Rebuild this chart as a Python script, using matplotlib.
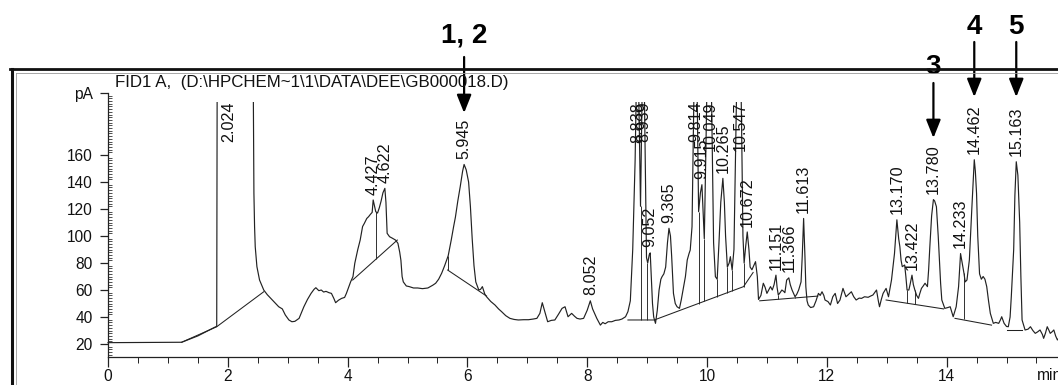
import numpy as np
import matplotlib
matplotlib.use("Agg")
import matplotlib.pyplot as plt
from matplotlib.lines import Line2D
from matplotlib.patches import Rectangle
from matplotlib.ticker import MultipleLocator

plt.rcParams['font.family'] = ['Liberation Sans', 'DejaVu Sans']

# ---------------- data ----------------
time_min = [
    0.00, 1.23, 1.50, 1.79, 1.815, 1.83, 2.40, 2.436, 2.447, 2.458, 2.486, 2.53, 2.60, 2.66, 2.77, 2.85, 2.91, 2.96, 3.02, 3.07,
    3.12, 3.19, 3.27, 3.33, 3.39, 3.44, 3.47, 3.52, 3.56, 3.60, 3.64, 3.69, 3.73, 3.77, 3.80, 3.85, 3.90, 3.95, 3.98, 4.05,
    4.09, 4.12, 4.17, 4.21, 4.25, 4.28, 4.32, 4.35, 4.38, 4.41, 4.427, 4.45, 4.47, 4.50, 4.53, 4.56, 4.59, 4.622, 4.64, 4.66,
    4.70, 4.75, 4.80, 4.84, 4.87, 4.89, 4.91, 4.93, 4.98, 5.03, 5.10, 5.17, 5.25, 5.34, 5.42, 5.47, 5.52, 5.57, 5.62, 5.68,
    5.73, 5.77, 5.80, 5.84, 5.88, 5.92, 5.945, 5.98, 6.02, 6.05, 6.08, 6.11, 6.14, 6.19, 6.22, 6.25, 6.29, 6.32, 6.39, 6.46,
    6.52, 6.57, 6.64, 6.71, 6.78, 6.85, 6.94, 7.02, 7.10, 7.16, 7.21, 7.25, 7.30, 7.34, 7.40, 7.46, 7.52, 7.58, 7.63, 7.68,
    7.74, 7.79, 7.83, 7.88, 7.94, 8.00, 8.052, 8.09, 8.11, 8.16, 8.22, 8.26, 8.30, 8.35, 8.41, 8.47, 8.53, 8.58, 8.64, 8.68,
    8.72, 8.76, 8.80, 8.838, 8.87, 8.89, 8.915, 8.939, 8.965, 8.99, 9.01, 9.035, 9.052, 9.07, 9.09, 9.11, 9.14, 9.17, 9.20, 9.23,
    9.25, 9.28, 9.31, 9.34, 9.365, 9.39, 9.41, 9.44, 9.47, 9.50, 9.54, 9.57, 9.61, 9.64, 9.67, 9.70, 9.72, 9.75, 9.78, 9.814,
    9.84, 9.86, 9.89, 9.915, 9.935, 9.955, 9.98, 10.01, 10.049, 10.08, 10.11, 10.14, 10.17, 10.20, 10.23, 10.265, 10.29, 10.31, 10.34, 10.37,
    10.39, 10.42, 10.45, 10.48, 10.51, 10.547, 10.575, 10.60, 10.62, 10.645, 10.672, 10.70, 10.72, 10.75, 10.78, 10.81, 10.84, 10.86, 10.90, 10.94,
    10.97, 11.00, 11.03, 11.06, 11.09, 11.12, 11.151, 11.17, 11.19, 11.22, 11.25, 11.28, 11.30, 11.33, 11.366, 11.39, 11.42, 11.45, 11.47, 11.50,
    11.53, 11.57, 11.59, 11.613, 11.635, 11.65, 11.67, 11.69, 11.73, 11.78, 11.82, 11.86, 11.89, 11.92, 11.95, 11.97, 12.02, 12.06, 12.10, 12.14,
    12.18, 12.22, 12.27, 12.32, 12.37, 12.41, 12.45, 12.49, 12.54, 12.58, 12.63, 12.69, 12.73, 12.77, 12.83, 12.86, 12.88, 12.91, 12.94, 12.99,
    13.03, 13.08, 13.13, 13.17, 13.20, 13.22, 13.24, 13.26, 13.30, 13.32, 13.34, 13.37, 13.39, 13.422, 13.445, 13.47, 13.50, 13.53, 13.55, 13.58,
    13.61, 13.64, 13.68, 13.70, 13.72, 13.75, 13.78, 13.80, 13.83, 13.86, 13.88, 13.90, 13.92, 13.97, 14.02, 14.06, 14.11, 14.16, 14.20, 14.233,
    14.26, 14.29, 14.31, 14.34, 14.38, 14.42, 14.462, 14.48, 14.50, 14.52, 14.55, 14.58, 14.61, 14.64, 14.67, 14.70, 14.73, 14.78, 14.82, 14.87,
    14.90, 14.92, 14.96, 15.00, 15.03, 15.06, 15.08, 15.12, 15.14, 15.163, 15.19, 15.22, 15.24, 15.26, 15.31, 15.36, 15.40, 15.44, 15.48, 15.52,
    15.56, 15.60, 15.62, 15.65, 15.68, 15.71, 15.73, 15.76, 15.79, 15.82, 15.85, 15.90,
]
signal_pA = [
    21.0, 21.3, 26.0, 32.6, 33.0, 400, 400, 131.6, 106.9, 92.0, 77.3, 67.4, 60.0, 56.5, 51.4, 47.6, 46.0, 41.5, 37.8, 36.5,
    36.8, 39.0, 47.6, 53.0, 57.5, 60.5, 61.7, 59.5, 60.0, 58.5, 59.0, 58.0, 57.5, 53.8, 50.6, 52.5, 53.8, 54.5, 57.5, 66.0,
    70.0, 79.8, 90.0, 97.0, 107.0, 109.4, 113.0, 114.3, 116.0, 117.5, 126.7, 122.0, 118.0, 117.0, 121.0, 126.0, 132.0, 135.3, 125.0, 102.0,
    99.5, 98.3, 97.0, 94.6, 88.0, 82.0, 70.0, 66.0, 63.0, 62.5, 61.5, 61.5, 61.0, 61.5, 63.5, 65.0, 68.0, 72.4, 78.0, 85.5,
    97.0, 107.0, 114.0, 126.0, 136.5, 148.0, 153.0, 149.0, 140.0, 122.0, 98.0, 78.0, 66.0, 60.0, 60.5, 62.5, 57.0, 55.0, 51.5, 48.9,
    46.0, 44.0, 41.0, 39.0, 38.2, 37.8, 38.0, 38.0, 38.5, 39.0, 42.7, 50.6, 42.7, 36.5, 37.5, 37.8, 42.0, 46.4, 47.6, 40.2,
    42.7, 40.5, 39.0, 38.5, 39.0, 45.0, 52.0, 46.0, 44.0, 39.0, 34.0, 36.0, 35.0, 36.5, 36.5, 37.5, 37.8, 38.5, 40.2, 44.0,
    52.0, 90.0, 156.0, 260.0, 180.0, 122.0, 200.0, 260.0, 170.0, 84.0, 80.0, 86.0, 87.5, 70.0, 50.0, 40.0, 35.3, 45.0, 60.0, 68.0,
    69.9, 72.0, 77.0, 95.0, 105.7, 100.0, 85.0, 57.5, 50.0, 47.6, 46.4, 52.6, 62.5, 70.0, 82.2, 87.0, 89.6, 106.9, 200.0, 270.0,
    190.0, 118.0, 132.0, 138.0, 118.0, 98.0, 160.0, 240.0, 270.0, 190.0, 95.0, 69.9, 68.0, 95.0, 125.0, 142.7, 125.0, 100.0, 77.0, 80.0,
    84.7, 74.8, 90.0, 170.0, 250.0, 270.0, 190.0, 100.0, 80.0, 92.0, 103.0, 90.0, 77.0, 75.0, 78.0, 81.0, 70.0, 53.0, 56.0, 65.0,
    62.0, 57.5, 60.0, 62.5, 60.0, 64.0, 71.0, 62.0, 56.3, 58.0, 60.0, 59.0, 58.0, 67.4, 69.0, 64.0, 60.0, 57.0, 55.0, 57.0,
    60.0, 66.0, 85.0, 113.0, 85.0, 62.5, 52.0, 48.9, 47.0, 47.6, 52.0, 57.5, 56.0, 58.7, 56.0, 52.6, 51.4, 48.9, 55.0, 57.5,
    50.0, 52.6, 61.2, 55.0, 57.0, 58.7, 55.0, 52.6, 54.0, 53.8, 55.0, 54.6, 55.5, 56.3, 60.0, 52.0, 47.6, 53.0, 57.5, 61.2,
    55.0, 67.4, 87.0, 112.0, 98.0, 92.0, 82.0, 77.3, 78.5, 70.0, 60.0, 60.0, 64.0, 71.0, 64.0, 60.0, 56.0, 53.8, 57.0, 61.2,
    63.0, 65.0, 62.5, 75.0, 92.0, 115.0, 127.0, 126.0, 121.7, 100.0, 82.2, 65.0, 52.6, 46.4, 47.0, 47.6, 40.2, 47.6, 62.5, 87.0,
    80.0, 72.4, 66.0, 67.4, 82.2, 119.3, 156.5, 148.0, 131.6, 100.0, 72.0, 68.0, 70.0, 68.0, 62.5, 52.0, 42.7, 35.3, 36.0, 35.3,
    38.0, 40.2, 35.3, 33.0, 32.8, 40.0, 55.0, 90.0, 130.0, 155.0, 145.0, 110.0, 70.0, 37.8, 30.4, 31.0, 32.8, 30.0, 27.9, 29.0,
    30.4, 27.0, 24.2, 28.0, 32.8, 30.0, 27.9, 29.0, 30.4, 26.0, 23.0, 26.0,
]

# integration baselines (polylines)
baseline_t = [[1.23, 1.815, 2.60], [4.085, 4.83], [5.67, 6.32], [8.68, 9.12, 10.61, 10.77],
              [10.88, 11.85], [12.99, 13.95], [14.14, 14.75], [15.00, 15.26]]
baseline_v = [[21.3, 32.8, 58.7], [67.4, 97.0], [74.8, 55.5], [37.8, 37.8, 62.5, 73.0],
              [52.0, 55.5], [52.6, 46.0], [39.0, 34.0], [30.4, 30.4]]

# peak separation (drop) lines
drop_t = [4.47, 5.68, 8.89, 9.005, 9.86, 9.955, 10.17, 10.34, 10.42, 10.61, 11.19, 11.47, 13.34, 13.47, 14.29]
drop_top = [118.0, 85.5, 122.0, 80.0, 118.0, 98.0, 68.0, 77.0, 74.8, 80.0, 56.3, 55.0, 60.0, 60.0, 72.4]
drop_bottom = [83.3, 74.6, 37.8, 37.8, 49.9, 51.5, 55.0, 57.9, 59.3, 62.5, 53.1, 54.2, 50.4, 49.6, 38.2]

# retention-time labels (None = peak off scale)
peak_labels = ["2.024", "4.427", "4.622", "5.945", "8.052", "8.838", "8.939", "9.052", "9.365",
               "9.814", "9.915", "10.049", "10.265", "10.547", "10.672", "11.151", "11.366",
               "11.613", "13.170", "13.422", "13.780", "14.233", "14.462", "15.163"]
peak_times = [2.024, 4.427, 4.622, 5.945, 8.052, 8.838, 8.939, 9.052, 9.365,
              9.814, 9.915, 10.049, 10.265, 10.547, 10.672, 11.151, 11.366,
              11.613, 13.170, 13.422, 13.780, 14.233, 14.462, 15.163]
peak_apex = [None, 126.7, 135.3, 153.0, 52.0, None, None, 87.5, 105.7,
             None, 138.0, None, 142.7, None, 103.0, 71.0, 69.0,
             113.0, 112.0, 71.0, 127.0, 87.0, 156.5, 155.0]

# identified compounds marked with arrows
marker_labels = ["1, 2", "3", "4", "5"]
marker_times = [5.945, 13.780, 14.462, 15.163]

x_ticks = [0, 2, 4, 6, 8, 10, 12, 14]
y_ticks = [20, 40, 60, 80, 100, 120, 140, 160]

# ---------------- figure ----------------
W, H = 1058, 385
fig = plt.figure(figsize=(W / 100, H / 100), dpi=100)
fig.patch.set_facecolor('white')

Y_TOP = 206.0
Y_BOT = 10.6
CLIP_TOP = 199.5
x_left_px, x_per_min = 108.0, 59.9
ax_bottom_px, ax_top_px = 356.7, 92.9
ax = fig.add_axes([x_left_px / W, 1 - ax_bottom_px / H,
                   16 * x_per_min / W, (ax_bottom_px - ax_top_px) / H])
ax.set_xlim(0, 16)
ax.set_ylim(Y_BOT, Y_TOP)
ax.patch.set_alpha(0)

clip = Rectangle((-1, 0), 18, CLIP_TOP, transform=ax.transData)
trace_col = '#222222'
ln, = ax.plot(time_min, signal_pA, color=trace_col, lw=0.85)
ln.set_clip_path(clip)
for bt, bv in zip(baseline_t, baseline_v):
    b, = ax.plot(bt, bv, color=trace_col, lw=0.75)
    b.set_clip_path(clip)
ax.vlines(drop_t, drop_bottom, drop_top, color=trace_col, lw=0.65)

# retention labels
for lab, t, apex in zip(peak_labels, peak_times, peak_apex):
    if apex is None:
        ax.text(t, CLIP_TOP, lab, rotation=90, ha='center', va='top',
                fontsize=11.6, color='#111')
    else:
        ax.text(t, apex + 4, lab, rotation=90, ha='center', va='bottom',
                fontsize=11.6, color='#111')

# axes styling
for s in ['top', 'right']:
    ax.spines[s].set_visible(False)
for s in ['left', 'bottom']:
    ax.spines[s].set_linewidth(0.9)
    ax.spines[s].set_color('#222')

ax.set_xticks(x_ticks)
ax.set_xticklabels([str(v) for v in x_ticks])
ax.xaxis.set_minor_locator(MultipleLocator(0.5))
ax.set_yticks(y_ticks + [Y_TOP])
ax.set_yticklabels([str(v) for v in y_ticks] + ['pA'])
ax.yaxis.set_minor_locator(MultipleLocator(2))
ax.tick_params(axis='x', which='major', direction='out', length=7, width=0.9,
               labelsize=11.2, pad=1.5, colors='#222')
ax.tick_params(axis='x', which='minor', direction='out', length=4, width=0.7, colors='#222')
ax.tick_params(axis='y', which='major', direction='out', length=6, width=0.9,
               labelsize=11.2, pad=5, colors='#222')
ax.tick_params(axis='y', which='minor', direction='in', length=3, width=0.6, colors='#333')
for lbl in ax.get_xticklabels() + ax.get_yticklabels():
    lbl.set_color('#111')

# "min" unit at the end of the time axis (cut by the page edge, as in the scan)
fig.text(1037 / W, 1 - 376 / H, 'min', ha='left', va='center', fontsize=11.2, color='#111')

# header
fig.text(115 / W, 1 - 82 / H, "FID1 A,  (D:\\HPCHEM~1\\1\\DATA\\DEE\\GB000018.D)",
         ha='left', va='center', fontsize=12.2, color='#111')

# page frame
fig.add_artist(Line2D([10 / W, 1], [1 - 69 / H] * 2, transform=fig.transFigure, lw=2.0, color='#111'))
fig.add_artist(Line2D([16 / W, 1], [1 - 73 / H] * 2, transform=fig.transFigure, lw=0.6, color='#999'))
fig.add_artist(Line2D([11.5 / W] * 2, [0, 1 - 69 / H], transform=fig.transFigure, lw=2.2, color='#111'))
fig.add_artist(Line2D([16 / W] * 2, [0, 1 - 73 / H], transform=fig.transFigure, lw=0.6, color='#999'))

# arrows with compound numbers
def v_of(ypx):
    return 20 + (344 - ypx) / 1.35

arrow_geom = {"1, 2": (57, 113, 36), "3": (83, 138, 67), "4": (42, 97, 27), "5": (42, 97, 27)}
for lab, t in zip(marker_labels, marker_times):
    tail, tip, ty = arrow_geom[lab]
    ax.annotate('', xy=(t, v_of(tip)), xytext=(t, v_of(tail)),
                arrowprops=dict(arrowstyle='-|>,head_length=0.55,head_width=0.22',
                                mutation_scale=20, lw=1.6, color='black',
                                shrinkA=0, shrinkB=0),
                annotation_clip=False)
    ax.text(t, v_of(ty), lab, ha='center', va='center', fontsize=20,
            fontweight='bold', color='black', clip_on=False)

fig.savefig('out.png', dpi=100)
